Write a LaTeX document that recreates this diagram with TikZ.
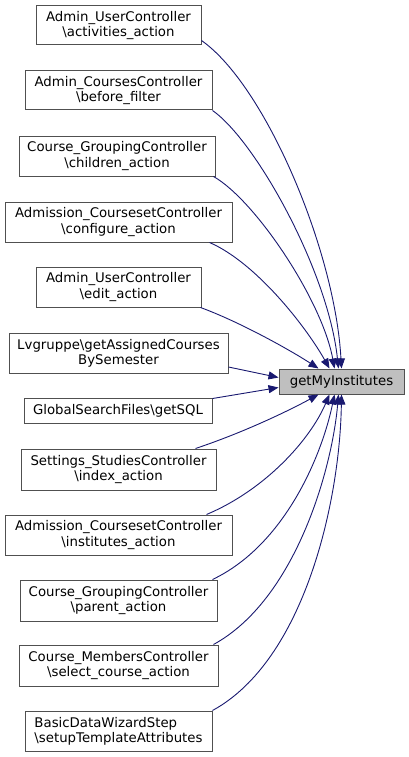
\documentclass[tikz,border=0pt]{standalone}
\usepackage{fontspec}
\setmainfont{DejaVu Sans}
\usetikzlibrary{arrows.meta,calc}
\definecolor{edgeblue}{HTML}{191970}
\definecolor{boxborder}{HTML}{505050}
\definecolor{targetfill}{HTML}{BFBFBF}
\begin{document}
\begin{tikzpicture}[x=1pt,y=-1pt,
  box/.style={draw=boxborder,line width=1pt,fill=white,rectangle,inner sep=0pt,align=center,
    font=\fontsize{13.3}{15.2}\selectfont},
  e/.style={draw=edgeblue,line width=0.9pt,-{Triangle[length=10pt,width=8pt]}}]
\useasboundingbox (0,0) rectangle (409,757);
\node[box,minimum width=165pt,minimum height=39pt] (n1) at (118.5,25.5) {Admin\_UserController\\\textbackslash activities\_action};
\node[box,minimum width=187pt,minimum height=39pt] (n2) at (118.5,90.5) {Admin\_CoursesController\\\textbackslash before\_filter};
\node[box,minimum width=196pt,minimum height=40pt] (n3) at (117,156) {Course\_GroupingController\\\textbackslash children\_action};
\node[box,minimum width=227pt,minimum height=40pt] (n4) at (118.5,222) {Admission\_CoursesetController\\\textbackslash configure\_action};
\node[box,minimum width=165pt,minimum height=40pt] (n5) at (118.5,287) {Admin\_UserController\\\textbackslash edit\_action};
\node[box,minimum width=219pt,minimum height=40pt] (n6) at (118.5,353) {Lvgruppe\textbackslash getAssignedCourses\\BySemester};
\node[box,minimum width=188pt,minimum height=25pt] (n7) at (118,410.5) {GlobalSearchFiles\textbackslash getSQL};
\node[box,minimum width=125pt,minimum height=25pt,fill=targetfill] (t) at (341.5,381.5) {getMyInstitutes};
\node[box,minimum width=195pt,minimum height=41pt] (n8) at (118.5,469.5) {Settings\_StudiesController\\\textbackslash index\_action};
\node[box,minimum width=227pt,minimum height=40pt] (n9) at (118.5,535) {Admission\_CoursesetController\\\textbackslash institutes\_action};
\node[box,minimum width=197pt,minimum height=41pt] (n10) at (118.5,600.5) {Course\_GroupingController\\\textbackslash parent\_action};
\node[box,minimum width=199pt,minimum height=41pt] (n11) at (118.5,665.5) {Course\_MembersController\\\textbackslash select\_course\_action};
\node[box,minimum width=187pt,minimum height=40pt,align=left] (n12) at (118.5,731) {BasicDataWizardStep\\\textbackslash setupTemplateAttributes};
% edges
\draw[e] ($(n1.south east)+(0,-5)$) .. controls (265,85) and (335,250) .. ($(t.north)+(0,0)$);
\draw[e] ($(n2.south east)+(0,0)$) .. controls (255,140) and (328,270) .. ($(t.north)+(-3,0)$);
\draw[e] ($(n3.south east)+(-2,0)$) .. controls (255,200) and (322,300) .. ($(t.north)+(-7,0)$);
\draw[e] ($(n4.south east)+(-23,0)$) .. controls (255,262) and (305,325) .. ($(t.north)+(-12,0)$);
\draw[e] ($(n5.south east)+(-1,0)$) .. controls (240,322) and (290,350) .. ($(t.north)+(-23,0)$);
\draw[e] ($(n6.east)+(0,14)$) -- ($(t.west)+(0,-4)$);
\draw[e] ($(n7.north east)+(0,1)$) -- ($(t.west)+(0,6)$);
\draw[e] ($(n8.north east)+(-21,0)$) .. controls (245,432) and (290,410) .. ($(t.south)+(-23,0)$);
\draw[e] ($(n9.north east)+(-26,0)$) .. controls (265,490) and (310,440) .. ($(t.south)+(-12,0)$);
\draw[e] ($(n10.north east)+(-5,0)$) .. controls (285,545) and (322,455) .. ($(t.south)+(-7,0)$);
\draw[e] ($(n11.north east)+(-5,0)$) .. controls (295,600) and (332,470) .. ($(t.south)+(-3,0)$);
\draw[e] ($(n12.north east)+(0,0)$) .. controls (305,660) and (340,500) .. ($(t.south)+(0,0)$);
\end{tikzpicture}
\end{document}
